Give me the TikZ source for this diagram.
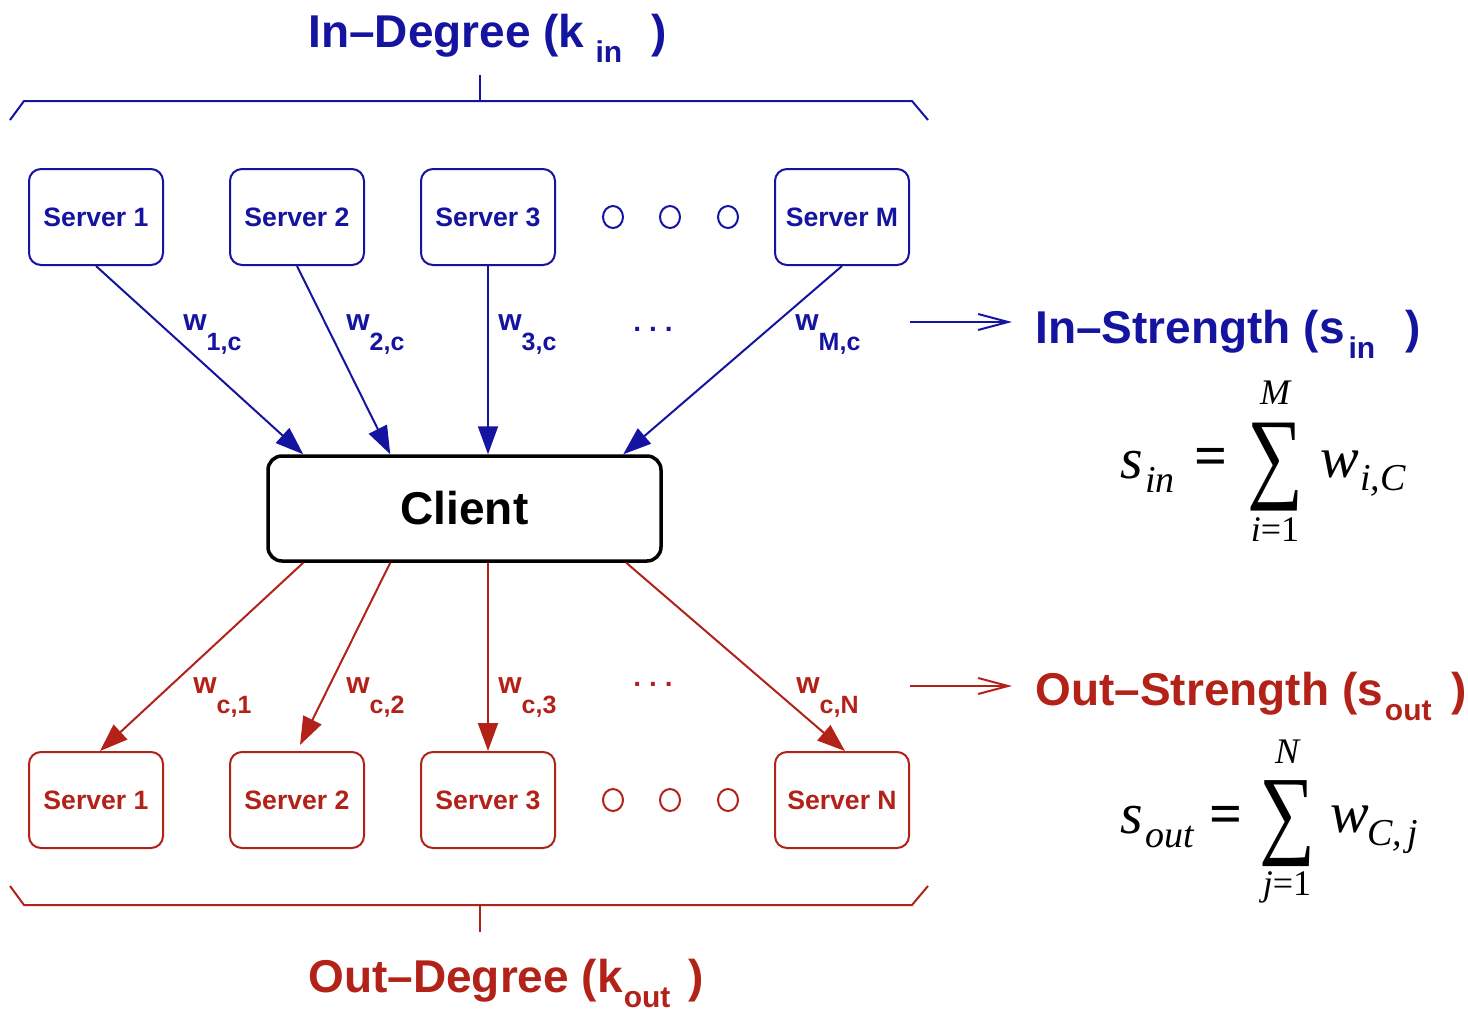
\documentclass[tikz,border=0pt]{standalone}
\usepackage{fontspec}
\setmainfont{Liberation Sans}
\newfontfamily\tms{Liberation Serif}
\usetikzlibrary{arrows.meta,calc}
\definecolor{inblue}{RGB}{20,20,160}
\definecolor{outred}{RGB}{178,34,24}
\newcommand\fsz[1]{\fontsize{#1}{#1}\selectfont}
\newcommand\wlabel[1]{w\raisebox{-10pt}{\fsz{12.5}#1}}
% title with a lowered subscript: #1 text, #2 gap, #3 subscript, #4 gap before ")"
\newcommand\subtitle[4]{#1\hspace{#2}\raisebox{-7.5pt}{\fsz{15}#3}\hspace{#4})}

\begin{document}
\begin{tikzpicture}[x=0.5pt,y=-0.5pt,
  srv/.style={draw, rounded corners=6pt, line width=1pt, minimum width=67pt,
    minimum height=48pt, inner sep=0pt, fill=white, font=\bfseries\fsz{13.3}},
  inbox/.style={srv, draw=inblue, text=inblue},
  outbox/.style={srv, draw=outred, text=outred},
  clientbox/.style={draw=black, rounded corners=7pt, line width=1.75pt,
    minimum width=196.5pt, minimum height=52.5pt, inner sep=0pt,
    font=\bfseries\fsz{23}},
  wlab/.style={anchor=base west, inner sep=0pt, font=\bfseries\fsz{15}},
  title/.style={anchor=base west, inner sep=0pt, font=\bfseries\fsz{23}},
  dots/.style={anchor=base, inner sep=0pt, font=\bfseries\fsz{14}},
  inarrow/.style={draw=inblue, line width=1pt, -{Triangle[length=14pt,width=10pt]}, fill=inblue},
  outarrow/.style={draw=outred, line width=1pt, -{Triangle[length=14pt,width=10pt]}, fill=outred},
  openarrow/.style={line width=1pt, -{Straight Barb[length=15pt,width=8pt,line width=1pt]}},
  brace/.style={line width=1pt},
  ring/.style={line width=1pt},
  fbig/.style={inner sep=0pt, font=\tms\itshape\fsz{29}},
  fsmall/.style={inner sep=0pt, font=\tms\itshape\fsz{19}},
  flim/.style={inner sep=0pt, font=\tms\itshape\fsz{18}},
  feq/.style={inner sep=0pt, font=\tms\bfseries\fsz{29}},
]
\useasboundingbox (0,0) rectangle (1468,1012);

% ---------- in-degree brace and title ----------
\draw[brace, inblue] (10,120) -- (24,101) -- (912,101) -- (928,120);
\draw[brace, inblue] (480,101) -- (480,75);
\node[title, text=inblue] (indeg) at (308,47)
  {\subtitle{In\textendash Degree (k}{5.5pt}{in}{14.5pt}};

% ---------- servers sending to the client ----------
\node[inbox] (s1) at (96,217) {Server 1};
\node[inbox] (s2) at (297,217) {Server 2};
\node[inbox] (s3) at (488,217) {Server 3};
\node[inbox] (sM) at (842,217) {Server M};
\draw[ring, inblue] (613,217) ellipse [x radius=5pt, y radius=5.5pt];
\draw[ring, inblue] (670,217) ellipse [x radius=5pt, y radius=5.5pt];
\draw[ring, inblue] (728,217) ellipse [x radius=5pt, y radius=5.5pt];

% ---------- client ----------
\node[clientbox] (client) at (464.5,508.5) {Client\hspace{7pt}};

\coordinate (cin1) at ($(client.north west)+(37,0)$);
\coordinate (cin2) at ($(client.north west)+(124,0)$);
\coordinate (cinM) at ($(client.north west)+(357,0)$);
\coordinate (cout1) at ($(client.south west)+(37,0)$);
\coordinate (cout2) at ($(client.south west)+(124,0)$);
\coordinate (coutN) at ($(client.south west)+(360,0)$);

\draw[inarrow] (s1.south) -- (cin1);
\draw[inarrow] (s2.south) -- (cin2);
\draw[inarrow] (s3.south) -- (s3.south |- client.north);
\draw[inarrow] (sM.south) -- (cinM);

\node[wlab, text=inblue] (w1c) at (183,330) {\wlabel{1,c}};
\node[wlab, text=inblue] (w2c) at (346,330) {\wlabel{2,c}};
\node[wlab, text=inblue] (w3c) at (498,330) {\wlabel{3,c}};
\node[wlab, text=inblue] (wMc) at (795,330) {\wlabel{M,c}};
\node[dots, text=inblue] (indots) at (653,331) {.\hspace{4pt}.\hspace{4pt}.};

% ---------- servers receiving from the client ----------
\node[outbox] (t1) at (96,800) {Server 1};
\node[outbox] (t2) at (297,800) {Server 2};
\node[outbox] (t3) at (488,800) {Server 3};
\node[outbox] (tN) at (842,800) {Server N};
\draw[ring, outred] (613,800) ellipse [x radius=5pt, y radius=5.5pt];
\draw[ring, outred] (670,800) ellipse [x radius=5pt, y radius=5.5pt];
\draw[ring, outred] (728,800) ellipse [x radius=5pt, y radius=5.5pt];

\draw[outarrow] (cout1) -- ($(t1.north)+(4,0)$);
\draw[outarrow] (cout2) -- ($(t2.north)+(3,-6)$);
\draw[outarrow] (t3.north |- client.south) -- (t3.north);
\draw[outarrow] (coutN) -- ($(tN.north)+(3,0)$);

\node[wlab, text=outred] (wc1) at (193,693) {\wlabel{c,1}};
\node[wlab, text=outred] (wc2) at (346,693) {\wlabel{c,2}};
\node[wlab, text=outred] (wc3) at (498,693) {\wlabel{c,3}};
\node[wlab, text=outred] (wcN) at (796,693) {\wlabel{c,N}};
\node[dots, text=outred] (outdots) at (653,686) {.\hspace{4pt}.\hspace{4pt}.};

% ---------- out-degree brace and title ----------
\draw[brace, outred] (10,886) -- (24,905) -- (912,905) -- (928,886);
\draw[brace, outred] (480,905) -- (480,932);
\node[title, text=outred] (outdeg) at (308,992)
  {\subtitle{Out\textendash Degree (k}{0.5pt}{out}{9pt}};

% ---------- in-strength ----------
\coordinate (isa) at (910,322);
\coordinate (isb) at (1012,322);
\draw[openarrow, inblue] (isa) -- (isb);
\node[title, text=inblue] (instr) at (1035,343)
  {\subtitle{In\textendash Strength (s}{2pt}{in}{15pt}};

\node[fbig, anchor=base west] (sin) at (1120,478) {s};
\node[fsmall, anchor=base west] (sinsub) at (1145,492) {in};
\node[feq] (eq1) at (1211,462) {=};
\node[inner sep=0pt] (sum1) at (1275,467) {\resizebox*{28pt}{44pt}{\tms ∑}};
\node[flim] (sumtop1) at (1275,393) {M};
\node[flim] (sumbot1) at (1275,530) {i{\upshape=1}};
\node[fbig, anchor=base west] (win) at (1320,477) {w};
\node[fsmall, anchor=base west] (winsub) at (1360,490) {i,C};

% ---------- out-strength ----------
\coordinate (osa) at (910,686);
\coordinate (osb) at (1012,686);
\draw[openarrow, outred] (osa) -- (osb);
\node[title, text=outred] (outstr) at (1035,705)
  {\subtitle{Out\textendash Strength (s}{1pt}{out}{10pt}};

\node[fbig, anchor=base west] (sout) at (1120,833) {s};
\node[fsmall, anchor=base west] (soutsub) at (1145,847) {out};
\node[feq] (eq2) at (1226,820) {=};
\node[inner sep=0pt] (sum2) at (1287,824) {\resizebox*{28pt}{43pt}{\tms ∑}};
\node[flim] (sumtop2) at (1287,752) {N};
\node[flim] (sumbot2) at (1287,887) {j{\upshape=1}};
\node[fbig, anchor=base west] (wout) at (1330,832) {w};
\node[fsmall, anchor=base west] (woutsub) at (1367,845) {C,\hspace{2.5pt}j};
\end{tikzpicture}
\end{document}
